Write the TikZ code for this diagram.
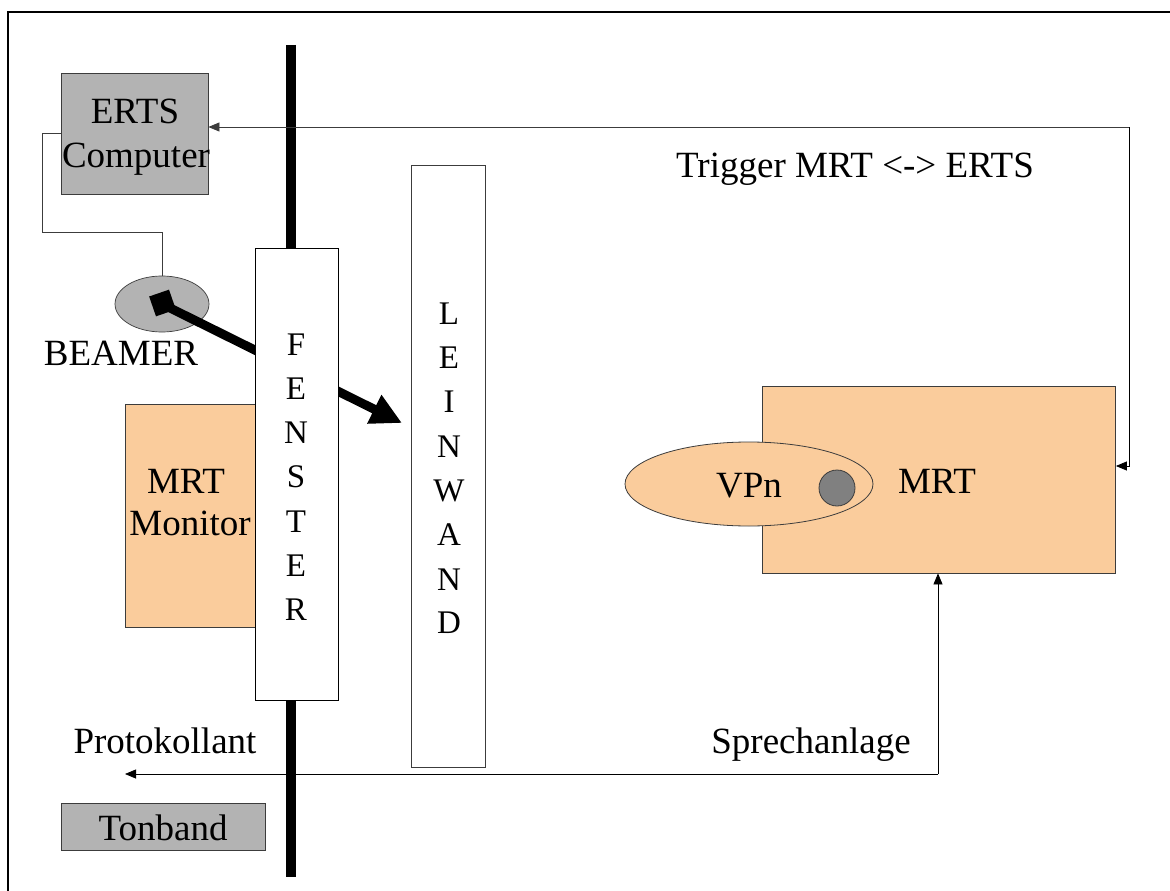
\documentclass[tikz,border=0pt]{standalone}
\usepackage{fontspec}
\setmainfont{Liberation Serif}
\usetikzlibrary{arrows.meta,shapes.geometric,calc}
\definecolor{boxgray}{RGB}{179,179,179}
\definecolor{mrtorange}{RGB}{250,204,156}
\definecolor{dotgray}{RGB}{128,128,128}
\definecolor{edge}{RGB}{60,60,60}
\begin{document}
\begin{tikzpicture}[x=1pt,y=-1pt,
  lbl/.style={font=\fontsize{37}{44}\selectfont, inner sep=0, anchor=base},
  vlbl/.style={font=\fontsize{33}{44}\selectfont, inner sep=0, anchor=base},
  box/.style={draw=edge, line width=0.8pt, inner sep=0},
  graybox/.style={box, fill=boxgray},
  orangebox/.style={box, fill=mrtorange},
  whitebox/.style={draw=black, line width=0.8pt, fill=white, inner sep=0},
  conn/.style={draw=black, line width=0.8pt},
  tip/.style={-{Triangle[length=11pt,width=9pt]}},
  beam/.style={line width=9pt, -{Triangle[length=31pt,width=30pt]}}]
\useasboundingbox (0,0) rectangle (1170,891);
\fill[white] (0,0) rectangle (1170,891);
% outer frame
\draw[line width=1.2pt] (8,12) rectangle (1190,910);
% wall
\coordinate (wtop) at (291,45);
\coordinate (wbot) at (291,877);
\draw[line width=10pt] (wtop) -- (wbot);
% ERTS computer
\node[graybox, minimum width=147pt, minimum height=121pt] (erts) at (134.5,133.5) {};
\node[lbl] (ertsA) at (135,123) {ERTS};
\node[lbl] (ertsB) at (136,167) {Computer};
% beamer
\node[ellipse, fill=boxgray, draw=edge, line width=0.7pt, minimum width=94pt, minimum height=56pt, inner sep=0] (beamer) at (162,304) {};
\coordinate (c1) at (42,232);
\draw[conn, draw=edge] (erts.west) -| (c1) -| (beamer.north);
\coordinate (beamtip) at (402,423);
\draw[beam] (beamer.center) -- (beamtip);
\node[fill=black, minimum size=21pt, rotate=19, inner sep=0] (lens) at (162.5,303) {};
\node[lbl] (beamerlbl) at (121,365) {BEAMER};
% MRT monitor
\node[orangebox, minimum width=130pt, minimum height=223pt] (monitor) at (190,515.5) {};
\node[lbl] (monA) at (186,493) {MRT};
\node[lbl] (monB) at (190,535) {Monitor};
% Fenster
\node[whitebox, minimum width=83pt, minimum height=452pt] (fenster) at (296.5,474) {};
\foreach \l/\y [count=\i] in {F/355,E/399.5,N/443.5,S/487.5,T/532,E/576.5,R/620}
  \node[vlbl] (fen\i) at (296,\y) {\l};
% Leinwand
\node[whitebox, draw=edge, minimum width=74pt, minimum height=602pt] (leinwand) at (448,466) {};
\foreach \l/\y [count=\i] in {L/324,E/368,I/412,N/457,W/501.5,A/545,N/590,D/633}
  \node[vlbl] (lei\i) at (449,\y) {\l};
% MRT scanner
\node[orangebox, minimum width=353pt, minimum height=187pt] (mrt) at (939,479.5) {};
\node[ellipse, orangebox, line width=0.8pt, minimum width=248pt, minimum height=84pt] (vpn) at (749,484) {};
\node[circle, fill=dotgray, draw=edge, line width=0.8pt, minimum size=36pt, inner sep=0] (head) at (837,488) {};
\node[lbl] (vpnlbl) at (749,497) {VPn};
\node[lbl] (mrtlbl) at (937,493) {MRT};
% trigger
\coordinate (tr) at (1129,127);
\draw[conn, draw=edge, tip] (tr) -- ([yshift=6.5pt]erts.east);
\draw[conn, tip] (tr) |- ([yshift=13.5pt]mrt.east);
\node[lbl] (triglbl) at (855,177) {Trigger MRT <-> ERTS};
% Sprechanlage
\coordinate (sp) at (938,774);
\coordinate (prot) at (125,774);
\draw[conn, tip] (sp) -- (mrt.south -| sp);
\draw[conn, tip] (sp) -- (prot);
\node[lbl] (sprlbl) at (811,753) {Sprechanlage};
\node[lbl] (protlbl) at (165,753) {Protokollant};
% Tonband
\node[graybox, minimum width=204pt, minimum height=47pt] (tonband) at (163,826.5) {};
\node[lbl] (tonlbl) at (163,840) {Tonband};
\end{tikzpicture}
\end{document}
